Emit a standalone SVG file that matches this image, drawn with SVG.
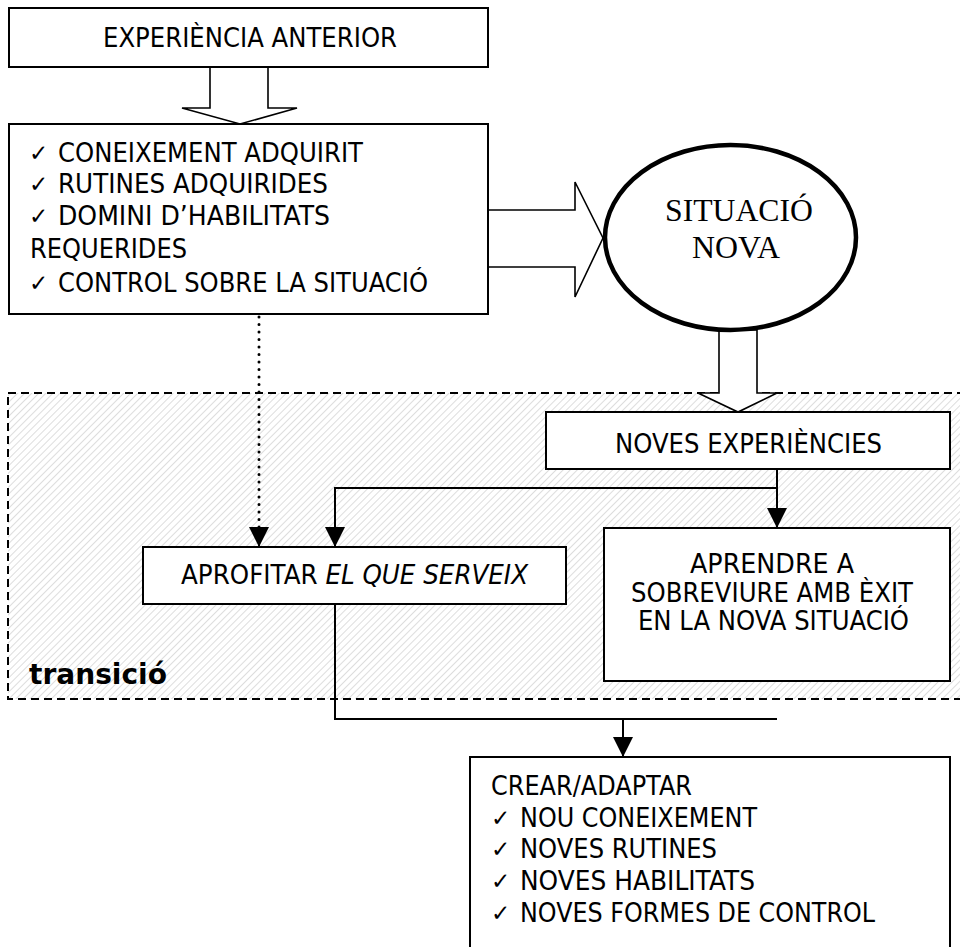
<svg xmlns="http://www.w3.org/2000/svg" width="960" height="947" viewBox="0 0 960 947">
<style>
.box{fill:#fff;stroke:#000;stroke-width:2}
.t{font-family:"DejaVu Sans","Liberation Sans",sans-serif;font-size:27px;fill:#000}
.chk{font-family:"DejaVu Sans","Liberation Sans",sans-serif;font-size:23px;fill:#000}
.ser{font-family:"Liberation Serif","Times New Roman",serif;font-size:31px;fill:#000}
.ln{fill:none;stroke:#000;stroke-width:2}
.blk{fill:#fff;stroke:#000;stroke-width:1.6;stroke-linejoin:miter}
.dot{fill:none;stroke:#000;stroke-width:3;stroke-linecap:round;stroke-dasharray:0 7.5}
</style>
<defs>
<pattern id="hatch" width="5" height="5" patternUnits="userSpaceOnUse" patternTransform="rotate(45)">
<line x1="0" y1="0" x2="0" y2="5" stroke="#cacaca" stroke-width="1.3"/>
</pattern>
<marker id="ah" viewBox="0 0 20 20" markerWidth="20" markerHeight="20" refX="20" refY="10" orient="auto" markerUnits="userSpaceOnUse">
<path d="M0,0 L20,10 L0,20 Z" fill="#000"/>
</marker>
</defs>
<rect width="960" height="947" fill="#fff"/>

<g id="transicio">
<rect x="8" y="393" width="1000" height="306" fill="url(#hatch)" stroke="#000" stroke-width="2" stroke-dasharray="8 5"/>
<text x="29" y="684" font-family="'DejaVu Sans','Liberation Sans',sans-serif" font-size="28" font-weight="bold" textLength="138" lengthAdjust="spacingAndGlyphs">transició</text>
</g>

<g id="connectors">
<polygon class="blk" points="210,67 268,67 268,108 297,108 240,124 182,108 210,108 210,67"/>
<polygon class="blk" points="488,210 575,210 575,182 603,238 575,297 575,267 488,267"/>
<polygon class="blk" points="719,330 757,330 757,393 777,393 738,412 698,393 719,393"/>
<line class="dot" x1="259" y1="317" x2="259" y2="532"/>
<line class="ln" x1="259" y1="528" x2="259" y2="547" marker-end="url(#ah)" stroke-width="0.1"/>
<polyline class="ln" points="777,469 777,488 335,488 335,547" marker-end="url(#ah)"/>
<line class="ln" x1="777" y1="488" x2="777" y2="528" marker-end="url(#ah)"/>
<polyline class="ln" points="335,604 335,719 777,719"/>
<line class="ln" x1="623" y1="719" x2="623" y2="757" marker-end="url(#ah)"/>
</g>

<g id="experiencia-anterior">
<rect class="box" x="9" y="8" width="479" height="59"/>
<text class="t" x="103" y="47" textLength="294" lengthAdjust="spacingAndGlyphs">EXPERIÈNCIA ANTERIOR</text>
</g>

<g id="coneixement">
<rect class="box" x="9" y="124" width="479" height="190"/>
<text class="chk" x="29" y="161">✓</text>
<text class="t" x="58" y="162" textLength="305" lengthAdjust="spacingAndGlyphs">CONEIXEMENT ADQUIRIT</text>
<text class="chk" x="29" y="192">✓</text>
<text class="t" x="58" y="193" textLength="270" lengthAdjust="spacingAndGlyphs">RUTINES ADQUIRIDES</text>
<text class="chk" x="29" y="224">✓</text>
<text class="t" x="58" y="225" textLength="272" lengthAdjust="spacingAndGlyphs">DOMINI D’HABILITATS</text>
<text class="t" x="30" y="258" textLength="157" lengthAdjust="spacingAndGlyphs">REQUERIDES</text>
<text class="chk" x="29" y="291">✓</text>
<text class="t" x="58" y="292" textLength="370" lengthAdjust="spacingAndGlyphs">CONTROL SOBRE LA SITUACIÓ</text>
</g>

<g id="situacio-nova">
<ellipse cx="730.5" cy="237.5" rx="125.5" ry="92.5" fill="#fff" stroke="#000" stroke-width="4.5"/>
<text class="ser" x="665" y="221" textLength="148" lengthAdjust="spacingAndGlyphs">SITUACIÓ</text>
<text class="ser" x="692" y="258" textLength="88" lengthAdjust="spacingAndGlyphs">NOVA</text>
</g>

<g id="noves-experiencies">
<rect class="box" x="546" y="412" width="404" height="57"/>
<text class="t" x="615" y="453" textLength="267" lengthAdjust="spacingAndGlyphs">NOVES EXPERIÈNCIES</text>
</g>

<g id="aprofitar">
<rect class="box" x="143" y="547" width="423" height="57"/>
<text class="t" x="181" y="584" textLength="347" lengthAdjust="spacingAndGlyphs">APROFITAR <tspan font-style="italic">EL QUE SERVEIX</tspan></text>
</g>

<g id="aprendre">
<rect class="box" x="604" y="528" width="346" height="153"/>
<text class="t" x="690" y="573" textLength="164" lengthAdjust="spacingAndGlyphs">APRENDRE A</text>
<text class="t" x="631" y="602" textLength="282" lengthAdjust="spacingAndGlyphs">SOBREVIURE AMB ÈXIT</text>
<text class="t" x="638" y="630" textLength="271" lengthAdjust="spacingAndGlyphs">EN LA NOVA SITUACIÓ</text>
</g>

<g id="crear-adaptar">
<rect class="box" x="470" y="757" width="480" height="220"/>
<text class="t" x="491" y="795" textLength="201" lengthAdjust="spacingAndGlyphs">CREAR/ADAPTAR</text>
<text class="chk" x="491" y="826">✓</text>
<text class="t" x="520" y="827" textLength="237" lengthAdjust="spacingAndGlyphs">NOU CONEIXEMENT</text>
<text class="chk" x="491" y="857">✓</text>
<text class="t" x="520" y="858" textLength="197" lengthAdjust="spacingAndGlyphs">NOVES RUTINES</text>
<text class="chk" x="491" y="889">✓</text>
<text class="t" x="520" y="890" textLength="235" lengthAdjust="spacingAndGlyphs">NOVES HABILITATS</text>
<text class="chk" x="491" y="921">✓</text>
<text class="t" x="520" y="922" textLength="355" lengthAdjust="spacingAndGlyphs">NOVES FORMES DE CONTROL</text>
</g>
</svg>
